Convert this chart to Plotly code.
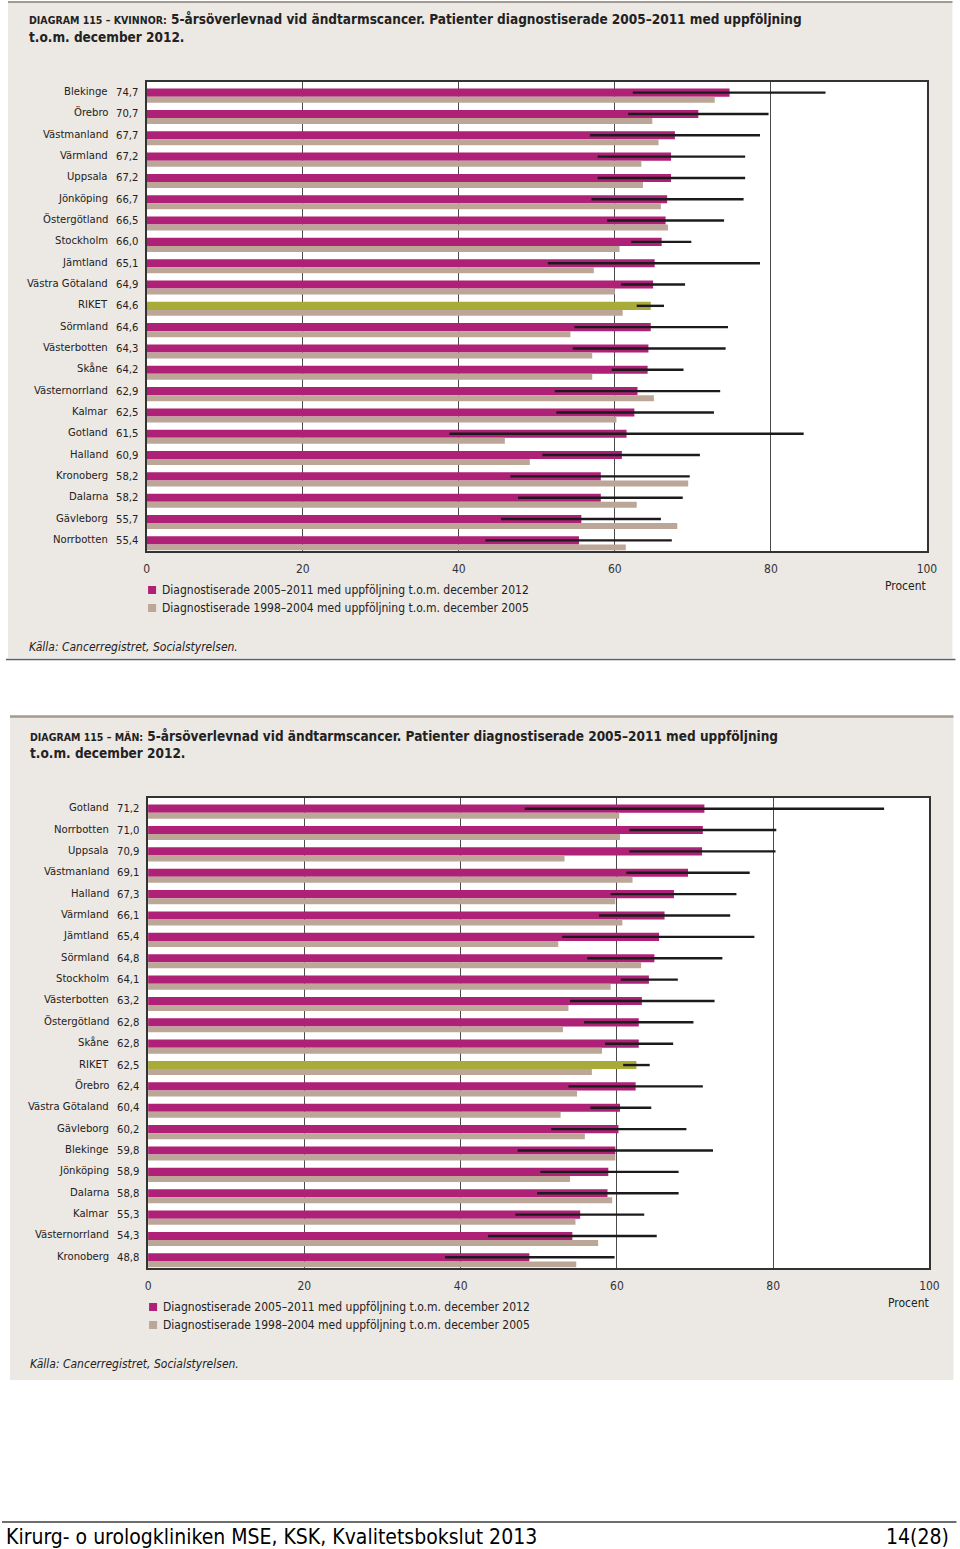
import plotly.graph_objects as go

W, H = 960, 1549

# ---------------- Data: Kvinnor ----------------
k_regions = ["Blekinge", "Örebro", "Västmanland", "Värmland", "Uppsala", "Jönköping",
             "Östergötland", "Stockholm", "Jämtland", "Västra Götaland", "RIKET",
             "Sörmland", "Västerbotten", "Skåne", "Västernorrland", "Kalmar", "Gotland",
             "Halland", "Kronoberg", "Dalarna", "Gävleborg", "Norrbotten"]
k_2005 = [74.7, 70.7, 67.7, 67.2, 67.2, 66.7, 66.5, 66.0, 65.1, 64.9, 64.6,
          64.6, 64.3, 64.2, 62.9, 62.5, 61.5, 60.9, 58.2, 58.2, 55.7, 55.4]
k_1998 = [72.8, 64.8, 65.6, 63.4, 63.6, 65.9, 66.8, 60.6, 57.3, 60.0, 61.0,
          54.3, 57.1, 57.1, 65.0, 60.2, 45.9, 49.1, 69.4, 62.8, 68.0, 61.4]
k_lo = [62.3, 61.7, 56.8, 57.8, 57.8, 57.0, 59.0, 62.1, 51.4, 60.8, 62.8,
        54.8, 54.6, 59.6, 52.3, 52.5, 38.8, 50.7, 46.6, 47.6, 45.4, 43.4]
k_hi = [87.0, 79.7, 78.6, 76.7, 76.7, 76.5, 74.0, 69.8, 78.6, 69.0, 66.3,
        74.5, 74.2, 68.8, 73.5, 72.7, 84.2, 70.9, 69.6, 68.7, 65.9, 67.3]

# ---------------- Data: Män ----------------
m_regions = ["Gotland", "Norrbotten", "Uppsala", "Västmanland", "Halland", "Värmland",
             "Jämtland", "Sörmland", "Stockholm", "Västerbotten", "Östergötland", "Skåne",
             "RIKET", "Örebro", "Västra Götaland", "Gävleborg", "Blekinge", "Jönköping",
             "Dalarna", "Kalmar", "Västernorrland", "Kronoberg"]
m_2005 = [71.2, 71.0, 70.9, 69.1, 67.3, 66.1, 65.4, 64.8, 64.1, 63.2, 62.8, 62.8,
          62.5, 62.4, 60.4, 60.2, 59.8, 58.9, 58.8, 55.3, 54.3, 48.8]
m_1998 = [60.3, 60.4, 53.3, 62.0, 59.8, 60.7, 52.5, 63.1, 59.2, 53.8, 53.1, 58.1,
          56.8, 54.9, 52.8, 55.9, 59.8, 54.0, 59.4, 54.7, 57.6, 54.8]
m_lo = [48.2, 61.6, 61.6, 61.2, 59.2, 57.7, 53.0, 56.2, 60.5, 54.0, 55.8, 58.5,
        60.8, 53.8, 56.6, 51.6, 47.3, 50.2, 49.8, 47.0, 43.5, 38.0]
m_hi = [94.2, 80.4, 80.3, 77.0, 75.3, 74.5, 77.6, 73.5, 67.8, 72.5, 69.8, 67.2,
        64.2, 71.0, 64.4, 68.9, 72.3, 67.9, 67.9, 63.5, 65.1, 59.7]

x_ticks = [0, 20, 40, 60, 80, 100]
legend_new = "Diagnostiserade 2005–2011 med uppföljning t.o.m. december 2012"
legend_old = "Diagnostiserade 1998–2004 med uppföljning t.o.m. december 2005"

# ---------------- Styles ----------------
MAGENTA = "#AF2176"
TAN = "#BBA697"
OLIVE = "#A8AB38"
BEIGE = "#ECE8E3"
FONT = "DejaVu Sans Condensed, Liberation Sans Narrow, sans-serif"

# horizontal placement correction (observed render mapping)
XA, XB = 3.0, 0.986


def px(x):
    return ((x - XA) / XB) / W


def py(y):
    return 1 - y / H


fig = go.Figure()

panels = [
    dict(regions=k_regions, new=k_2005, old=k_1998, lo=k_lo, hi=k_hi,
         xa="x", ya="y", xdom=(146.7, 926.5), ydom=(82, 551)),
    dict(regions=m_regions, new=m_2005, old=m_1998, lo=m_lo, hi=m_hi,
         xa="x2", ya="y2", xdom=(148, 929), ydom=(798, 1268)),
]

for p in panels:
    regs = p["regions"]
    colors = [OLIVE if r == "RIKET" else MAGENTA for r in regs]
    fig.add_trace(go.Bar(
        y=regs, x=p["new"], orientation="h", xaxis=p["xa"], yaxis=p["ya"],
        marker=dict(color=colors, line=dict(width=0)),
        width=0.38, offset=-0.19,
        error_x=dict(type="data", symmetric=False,
                     array=[h - v for h, v in zip(p["hi"], p["new"])],
                     arrayminus=[v - l for l, v in zip(p["lo"], p["new"])],
                     color="#1c1a1c", thickness=2.4, width=0),
        showlegend=False, hoverinfo="skip"))
    fig.add_trace(go.Bar(
        y=regs, x=p["old"], orientation="h", xaxis=p["xa"], yaxis=p["ya"],
        marker=dict(color=TAN, line=dict(width=0)),
        width=0.28, offset=0.19,
        showlegend=False, hoverinfo="skip"))

axis_common_x = dict(range=[0, 100], tickvals=x_ticks, ticktext=[str(t) for t in x_ticks],
                     showgrid=True, gridcolor="#4a4a4a", gridwidth=1,
                     showline=True, mirror=True, linecolor="#333333", linewidth=1.5,
                     zeroline=False, ticks="", tickfont=dict(family=FONT, size=12, color="#333"),
                     ticklabelstandoff=6, fixedrange=True)

lay = dict(
    width=W, height=H, autosize=False, margin=dict(l=0, r=0, t=0, b=0),
    paper_bgcolor="white", plot_bgcolor="white",
    barmode="overlay", showlegend=False,
    font=dict(family=FONT, color="#222"),
)

shapes = []
annotations = []

for i, p in enumerate(panels):
    sfx = "" if i == 0 else "2"
    x0, x1 = p["xdom"]
    y0, y1 = p["ydom"]
    lay["xaxis" + sfx] = dict(axis_common_x, domain=[px(x0), px(x1)], anchor="y" + sfx)
    n = len(p["regions"])
    lay["yaxis" + sfx] = dict(domain=[py(y1), py(y0)], anchor="x" + sfx, type="category",
                              categoryarray=p["regions"], range=[n - 0.5, -0.5],
                              showticklabels=False, showgrid=False, ticks="",
                              showline=True, mirror=True, linecolor="#333333", linewidth=1.5,
                              zeroline=False, fixedrange=True)
    shapes.append(dict(type="rect", xref="paper", yref="paper", layer="below",
                       x0=px(x0), x1=px(x1), y0=py(y1), y1=py(y0),
                       fillcolor="white", line=dict(width=0)))
    ref = "y" + sfx
    name_x = 110 if i == 0 else 111
    val_x = 139.5 if i == 0 else 141
    for r, v in zip(p["regions"], p["new"]):
        annotations.append(dict(xref="paper", yref=ref, x=px(name_x), y=r, yshift=1,
                                text=r, showarrow=False, xanchor="right",
                                font=dict(family=FONT, size=11.2, color="#222")))
        annotations.append(dict(xref="paper", yref=ref, x=px(val_x), y=r, yshift=0,
                                text=f"{v:.1f}".replace(".", ","), showarrow=False,
                                xanchor="right",
                                font=dict(family=FONT, size=11.2, color="#222")))

bg_shapes = [
    dict(type="rect", xref="paper", yref="paper", layer="below",
         x0=px(8), x1=px(952), y0=py(658), y1=py(2), fillcolor=BEIGE, line=dict(width=0)),
    dict(type="rect", xref="paper", yref="paper", layer="below",
         x0=px(10), x1=px(953), y0=py(1380), y1=py(716), fillcolor=BEIGE, line=dict(width=0)),
]
lines = [
    dict(type="line", xref="paper", yref="paper", x0=px(8), x1=px(952), y0=py(2), y1=py(2),
         line=dict(color="#A39A91", width=2)),
    dict(type="line", xref="paper", yref="paper", x0=px(6), x1=px(955), y0=py(659.5), y1=py(659.5),
         line=dict(color="#56606E", width=1.5)),
    dict(type="line", xref="paper", yref="paper", x0=px(10), x1=px(953), y0=py(716.5), y1=py(716.5),
         line=dict(color="#A39A91", width=2.5)),
    dict(type="line", xref="paper", yref="paper", x0=px(2), x1=px(956), y0=py(1522), y1=py(1522),
         line=dict(color="#3c3c3c", width=1.5)),
]

panel_meta = [
    dict(title_y=(19, 37), cap="DIAGRAM 115 – KVINNOR:", leg_y=(590, 608), leg_x=148,
         proc=(928, 586), kalla=(27, 647), tx=27),
    dict(title_y=(736, 753), cap="DIAGRAM 115 – MÄN:", leg_y=(1307, 1325), leg_x=149,
         proc=(931, 1303), kalla=(28, 1364), tx=28),
]
for m in panel_meta:
    annotations.append(dict(xref="paper", yref="paper", x=px(m["tx"]), y=py(m["title_y"][0]),
                            xanchor="left", yanchor="middle", showarrow=False,
                            text=f"<span style='font-size:10.5px'>{m['cap']}</span> 5-årsöverlevnad vid ändtarmscancer. Patienter diagnostiserade 2005–2011 med uppföljning",
                            font=dict(family=FONT, size=13.5, color="#222", weight="bold")))
    annotations.append(dict(xref="paper", yref="paper", x=px(m["tx"]), y=py(m["title_y"][1]),
                            xanchor="left", yanchor="middle", showarrow=False,
                            text="t.o.m. december 2012.",
                            font=dict(family=FONT, size=13.5, color="#222", weight="bold")))
    for (yy, col, txt) in [(m["leg_y"][0], MAGENTA, legend_new), (m["leg_y"][1], TAN, legend_old)]:
        shapes.append(dict(type="rect", xref="paper", yref="paper",
                           x0=px(m["leg_x"]), x1=px(m["leg_x"] + 8), y0=py(yy + 4), y1=py(yy - 4),
                           fillcolor=col, line=dict(width=0)))
        annotations.append(dict(xref="paper", yref="paper", x=px(m["leg_x"] + 12), y=py(yy),
                                xanchor="left", yanchor="middle", showarrow=False, text=txt,
                                font=dict(family=FONT, size=12, color="#222")))
    annotations.append(dict(xref="paper", yref="paper", x=px(m["proc"][0]), y=py(m["proc"][1]),
                            xanchor="right", yanchor="middle", showarrow=False, text="Procent",
                            font=dict(family=FONT, size=12, color="#222")))
    annotations.append(dict(xref="paper", yref="paper", x=px(m["kalla"][0]), y=py(m["kalla"][1]),
                            xanchor="left", yanchor="middle", showarrow=False,
                            text="<i>Källa: Cancerregistret, Socialstyrelsen.</i>",
                            font=dict(family=FONT, size=12, color="#222")))

annotations.append(dict(xref="paper", yref="paper", x=px(4), y=py(1537), xanchor="left",
                        yanchor="middle", showarrow=False,
                        text="Kirurg- o urologkliniken MSE, KSK, Kvalitetsbokslut 2013",
                        font=dict(family=FONT, size=21, color="#000")))
annotations.append(dict(xref="paper", yref="paper", x=px(951), y=py(1537), xanchor="right",
                        yanchor="middle", showarrow=False, text="14(28)",
                        font=dict(family=FONT, size=21, color="#000")))

lay["shapes"] = bg_shapes + shapes + lines
lay["annotations"] = annotations
fig.update_layout(**lay)

fig.write_html("out.html", config={"responsive": False})
